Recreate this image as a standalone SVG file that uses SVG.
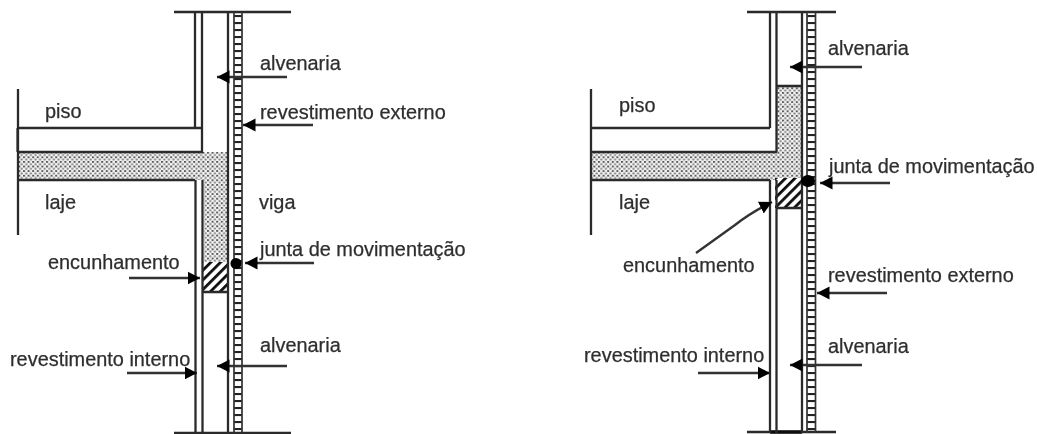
<svg xmlns="http://www.w3.org/2000/svg" width="1037" height="434" viewBox="0 0 1037 434">
<style>
.w{stroke:#2a2a2a;stroke-width:2.3;fill:none}
.f{stroke:#333;stroke-width:1.7;fill:none}
.a{stroke:#333;stroke-width:2.3;fill:none;marker-end:url(#h)}
text{font-family:"Liberation Sans",Arial,sans-serif;font-size:19.9px;fill:#2e2e2e;stroke:#2e2e2e;stroke-width:0.25}
</style>
<defs>
<filter id="b" x="-2%" y="-2%" width="104%" height="104%"><feGaussianBlur stdDeviation="0.6"/></filter>
<marker id="h" viewBox="0 0 13 14" refX="12.5" refY="7" markerWidth="13" markerHeight="14" markerUnits="userSpaceOnUse" orient="auto"><path d="M0,0.5L12.500,7L0,13.500z" fill="#000"/></marker>
<pattern id="d" width="4.6" height="4.6" patternUnits="userSpaceOnUse"><rect width="4.6" height="4.6" fill="#f4f4f4"/><rect x="0" y="0" width="2" height="1.8" fill="#555"/><rect x="2.3" y="2.3" width="2" height="1.8" fill="#777"/></pattern>
<pattern id="x" width="6.8" height="6.8" patternUnits="userSpaceOnUse" patternTransform="rotate(45)"><rect width="6.8" height="6.8" fill="#fff"/><rect width="2.8" height="6.8" fill="#111"/></pattern>
<pattern id="k" width="10" height="7" patternUnits="userSpaceOnUse" patternTransform="translate(0,1)"><rect y="0" width="10" height="2.1" fill="#222"/></pattern>
</defs>
<g filter="url(#b)">
<g id="corte-esquerdo">
<path class="w" d="M174,12H291M174,433H291"/>
<rect x="18" y="152" width="210" height="28" fill="url(#d)"/>
<rect x="204" y="178" width="24" height="84" fill="url(#d)"/>
<rect x="203" y="262" width="25" height="30" fill="url(#x)"/>
<rect x="234" y="12" width="8" height="421" fill="url(#k)"/>
<path class="w" d="M195,12V128M202,12V128M18,128H202M18,152H202V128M18,89V235M17.500,128V152M19,180H195M195.500,180V433M202.500,180V433M203,292H228M228,12V433"/>
<path class="f" d="M234,12V433M242,12V433"/>
<ellipse cx="236" cy="263.500" rx="5.500" ry="5.500" fill="#000"/>
</g>
<g id="corte-direito">
<path class="w" d="M747,12H836M747,432H836"/>
<path d="M770,432H802" stroke="#111" stroke-width="3.500"/>
<rect x="591" y="152" width="211" height="28" fill="url(#d)"/>
<rect x="777" y="86" width="25" height="94" fill="url(#d)"/>
<rect x="775" y="178" width="27" height="30" fill="url(#x)"/>
<rect x="807" y="12" width="9" height="421" fill="url(#k)"/>
<path class="w" d="M770,12V128M776.500,12V152M591,128H770M591,152H777M591,89V235M592,180H770M770,180V433M776.500,180V433M777,86H802M777,208H802M802,12V433"/>
<path class="f" d="M807,12V433M815.500,12V433"/>
<ellipse cx="808" cy="181" rx="7" ry="6" fill="#000"/>
</g>
<g id="conectores">
<path class="a" d="M287,77H217"/>
<path class="a" d="M313,125H243"/>
<path class="a" d="M314,263H245"/>
<path class="a" d="M129,278H200"/>
<path class="a" d="M127,373H197"/>
<path class="a" d="M287,366H217"/>
<path class="a" d="M862,67H790"/>
<path class="a" d="M890,183H820"/>
<path class="a" d="M887,293H817"/>
<path class="a" d="M862,365H790"/>
<path class="a" d="M698,373H770"/>
<path class="a" d="M696,253L735,225Q750,213 772,202"/>
</g>
<g id="rotulos">
<text x="260" y="70">alvenaria</text>
<text x="260" y="119">revestimento externo</text>
<text x="45" y="118">piso</text>
<text x="45" y="209">laje</text>
<text x="259" y="209">viga</text>
<text x="260" y="256">junta de movimentação</text>
<text x="48" y="269">encunhamento</text>
<text x="10" y="366">revestimento interno</text>
<text x="260" y="352">alvenaria</text>
<text x="619" y="112">piso</text>
<text x="619" y="209">laje</text>
<text x="828" y="55">alvenaria</text>
<text x="829" y="173">junta de movimentação</text>
<text x="828" y="282">revestimento externo</text>
<text x="828" y="353">alvenaria</text>
<text x="623" y="272">encunhamento</text>
<text x="584" y="362">revestimento interno</text>
</g>
</g>
</svg>
